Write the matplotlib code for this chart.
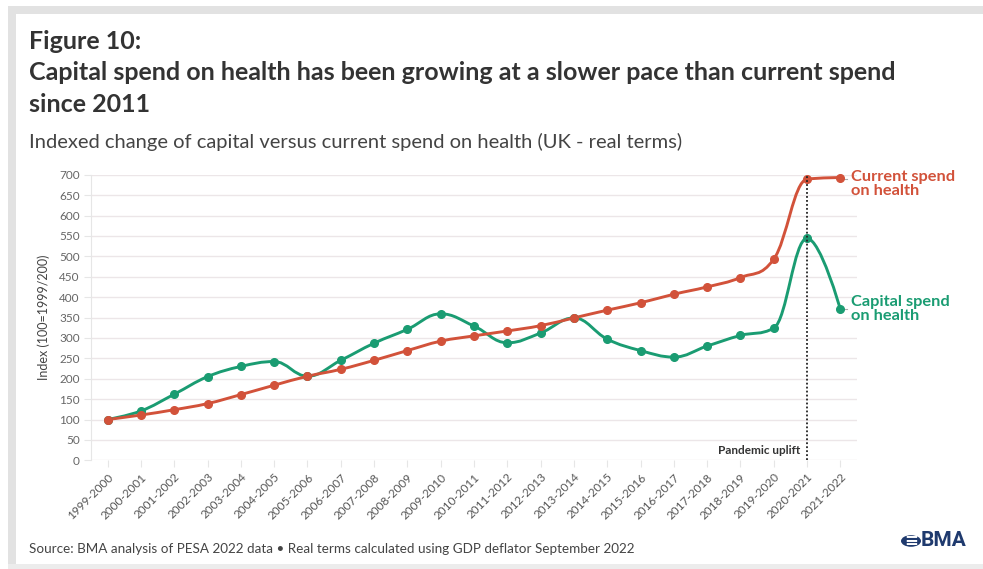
import numpy as np
import matplotlib
matplotlib.use("Agg")
import matplotlib.pyplot as plt
from matplotlib.path import Path
from matplotlib.patches import PathPatch, Rectangle, Circle

years = ["1999-2000", "2000-2001", "2001-2002", "2002-2003", "2003-2004",
         "2004-2005", "2005-2006", "2006-2007", "2007-2008", "2008-2009",
         "2009-2010", "2010-2011", "2011-2012", "2012-2013", "2013-2014",
         "2014-2015", "2015-2016", "2016-2017", "2017-2018", "2018-2019",
         "2019-2020", "2020-2021", "2021-2022"]
current_spend = [100, 111, 124, 139, 161, 184, 206, 223, 245, 269, 292, 305,
                 317, 330, 349, 368, 386, 407, 425, 448, 493, 689, 693]
capital_spend = [100, 121, 162, 205, 230, 242, 206, 245, 287, 321, 359, 329,
                 288, 312, 349, 297, 269, 253, 280, 306, 324, 544, 370]
yticks = list(range(0, 701, 50))

RED = "#d2523a"
GREEN = "#1a9c72"
W, H = 983, 569


def spline_path(xs, ys, smoothing=1.5):
    # bezier spline with overshoot guard, same idea as highcharts "spline"
    n = len(xs)
    left = [None] * n
    right = [None] * n
    for i in range(n):
        x, y = xs[i], ys[i]
        if i == 0 or i == n - 1:
            left[i] = (x, y)
            right[i] = (x, y)
            continue
        lx, ly = xs[i - 1], ys[i - 1]
        nx, ny = xs[i + 1], ys[i + 1]
        d = smoothing + 1
        lcx = (smoothing * x + lx) / d
        lcy = (smoothing * y + ly) / d
        rcx = (smoothing * x + nx) / d
        rcy = (smoothing * y + ny) / d
        if rcx != lcx:
            corr = (rcy - lcy) * (rcx - x) / (rcx - lcx) + y - rcy
            lcy += corr
            rcy += corr
        if lcy > ly and lcy > y:
            lcy = max(ly, y)
            rcy = 2 * y - lcy
        elif lcy < ly and lcy < y:
            lcy = min(ly, y)
            rcy = 2 * y - lcy
        if rcy > ny and rcy > y:
            rcy = max(ny, y)
            lcy = 2 * y - rcy
        elif rcy < ny and rcy < y:
            rcy = min(ny, y)
            lcy = 2 * y - rcy
        left[i] = (lcx, lcy)
        right[i] = (rcx, rcy)
    verts = [(xs[0], ys[0])]
    codes = [Path.MOVETO]
    for i in range(1, n):
        verts += [right[i - 1], left[i], (xs[i], ys[i])]
        codes += [Path.CURVE4] * 3
    return Path(verts, codes)


def fx(px):
    return px / W


def fy(py):
    return 1 - py / H


fig = plt.figure(figsize=(W / 100, H / 100), dpi=100)
fig.patch.set_facecolor("white")

# grey frame around the panel
fig.patches.append(Rectangle((fx(8), fy(14)), fx(W), 8 / H, transform=fig.transFigure,
                             color="#e2e2e2", lw=0, zorder=0))
fig.patches.append(Rectangle((fx(8), 0), 8 / W, fy(6), transform=fig.transFigure,
                             color="#e2e2e2", lw=0, zorder=0))
fig.patches.append(Rectangle((fx(8), 0), fx(W), 5 / H, transform=fig.transFigure,
                             color="#ececec", lw=0, zorder=0))

title_font = ["Lato", "DejaVu Sans"]
fig.text(fx(29), fy(49), "Figure 10:", fontsize=18, fontweight="bold",
         color="#333333", family=title_font, va="baseline")
fig.text(fx(29), fy(80), "Capital spend on health has been growing at a slower pace than current spend",
         fontsize=18, fontweight="bold", color="#333333", family=title_font, va="baseline")
fig.text(fx(29), fy(112), "since 2011", fontsize=18, fontweight="bold",
         color="#333333", family=title_font, va="baseline")
fig.text(fx(29), fy(148), "Indexed change of capital versus current spend on health (UK - real terms)",
         fontsize=14.5, color="#444444", family=title_font, va="baseline")
fig.text(fx(29), fy(553), "Source: BMA analysis of PESA 2022 data \u2022 Real terms calculated using GDP deflator September 2022",
         fontsize=9.75, color="#444444", family=title_font, va="baseline")

ax = fig.add_axes([fx(91), fy(460.3), fx(857) - fx(91), (460.3 - 174.7) / H])
x = np.arange(len(years))
ax.set_xlim(-0.5, len(years) - 0.5)
ax.set_ylim(0, 700)

for sp in ["top", "right", "bottom"]:
    ax.spines[sp].set_visible(False)
ax.spines["left"].set_color("#e6e6e6")
ax.set_yticks(yticks)
ax.set_yticklabels([str(v) for v in yticks])
ax.grid(axis="y", color="#ece6e8", lw=1)
ax.set_axisbelow(True)
ax.tick_params(axis="y", length=5, color="#e6e6e6", labelsize=8.5, labelcolor="#666666", pad=3)
ax.set_xticks(x)
ax.set_xticklabels(years, rotation=45, ha="right", rotation_mode="anchor")
ax.tick_params(axis="x", length=5, color="#e6e6e6", labelsize=8.5, labelcolor="#555555", pad=3)
for lab in ax.get_xticklabels() + ax.get_yticklabels():
    lab.set_family(title_font)
ax.set_ylabel("Index (100=1999/200)", fontsize=9, color="#444444", family=title_font, labelpad=7)

for vals, col in [(capital_spend, GREEN), (current_spend, RED)]:
    p = spline_path(list(x.astype(float)), [float(v) for v in vals])
    ax.add_patch(PathPatch(p, facecolor="none", edgecolor=col, lw=2.1, zorder=3, clip_on=False))
    ax.plot(x, vals, "o", color=col, ms=5.5, zorder=4, clip_on=False)

# pandemic marker
px = years.index("2020-2021")
ax.plot([px, px], [0, 700], color="#222222", lw=1.3, ls=(0, (1, 1.2)), zorder=5, clip_on=False)
ax.text(px - 0.2, 25, "Pandemic uplift", fontsize=8.5, fontweight="bold", color="#333333",
        ha="right", va="center", family=title_font)

# end labels
last = len(years) - 1
ax.plot([last + 0.12, last + 0.2], [current_spend[-1] - 4, current_spend[-1] - 4],
        color="#aaaaaa", lw=0.8, clip_on=False)
ax.plot([last + 0.12, last + 0.2], [capital_spend[-1] + 2, capital_spend[-1] + 2],
        color="#aaaaaa", lw=0.8, clip_on=False)
ax.text(last + 0.33, current_spend[-1] - 16, "Current spend\non health", color=RED,
        fontsize=11.8, fontweight="bold", va="center", ha="left", family=title_font,
        linespacing=0.95, clip_on=False)
ax.text(last + 0.33, capital_spend[-1] + 1, "Capital spend\non health", color=GREEN,
        fontsize=11.8, fontweight="bold", va="center", ha="left", family=title_font,
        linespacing=0.95, clip_on=False)

# BMA logo
fig.patches.append(Circle((fx(911), fy(541)), 10 / W, transform=fig.transFigure,
                          color="#1f3a6e", lw=0))
fig.text(fx(911), fy(541), "\u2261", color="white", fontsize=12, ha="center", va="center",
         fontweight="bold")
fig.text(fx(921), fy(541), "BMA", color="#1f3a6e", fontsize=15, fontweight="bold",
         family=["Roboto", "DejaVu Sans"], ha="left", va="center")

fig.savefig("out.png", dpi=100)
